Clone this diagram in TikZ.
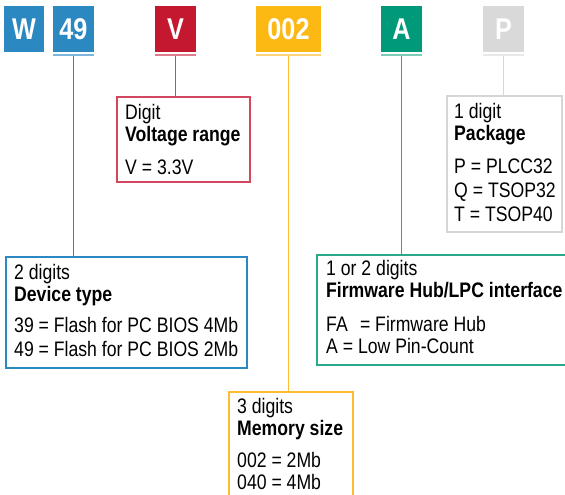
\documentclass[tikz,border=0pt]{standalone}
\usepackage{fontspec}
\setmainfont[FakeStretch=0.84]{Liberation Sans}
\definecolor{cblue}{HTML}{2B88C0}
\definecolor{cbluel}{HTML}{7DB6DC}
\definecolor{cred}{HTML}{C41730}
\definecolor{credb}{HTML}{D24760}
\definecolor{credl}{HTML}{E07C8C}
\definecolor{cyel}{HTML}{FDB913}
\definecolor{cyelb}{HTML}{FDBD30}
\definecolor{cyell}{HTML}{FDD47A}
\definecolor{cgreen}{HTML}{00997A}
\definecolor{cgreenb}{HTML}{2AA88A}
\definecolor{cgreenl}{HTML}{7CCDB8}
\definecolor{cgray}{HTML}{D9D9D9}
\definecolor{cgrayb}{HTML}{D6D6D6}
\definecolor{cgrayl}{HTML}{E8E8E8}
\begin{document}
\begin{tikzpicture}[x=1pt,y=-1pt,
  hdr/.style={inner sep=0pt, minimum height=46pt, text=white,
    font=\fontsize{30}{32}\selectfont\bfseries},
  uline/.style={inner sep=0pt, minimum height=2pt, anchor=north},
  infobox/.style={draw, line width=1.5pt, anchor=north west, inner sep=0pt},
  txt/.style={anchor=north west, inner sep=0pt, align=left,
    font=\fontsize{21}{22}\selectfont},
  conn/.style={line width=1.3pt}]
\clip (0,0) rectangle (565,495);
\fill[white] (0,0) rectangle (565,495);
% header boxes
\node[hdr, fill=cblue, minimum width=40pt] (hw) at (24,29) {W};
\node[hdr, fill=cblue, minimum width=41pt] (h49) at (73.5,29) {49};
\node[hdr, fill=cred, minimum width=41pt] (hv) at (175.5,29) {V};
\node[hdr, fill=cyel, minimum width=65pt] (h002) at (288.5,29) {002};
\node[hdr, fill=cgreen, minimum width=41pt] (ha) at (401.5,29) {A};
\node[hdr, fill=cgray, minimum width=41pt] (hp) at (503.5,29) {P};
% underlines
\node[uline, fill=cbluel, minimum width=41pt] (u49) at ([yshift=-1.5pt]h49.south) {};
\node[uline, fill=credl, minimum width=41pt] (uv) at ([yshift=-1.5pt]hv.south) {};
\node[uline, fill=cyell, minimum width=65pt] (u002) at ([yshift=-1.5pt]h002.south) {};
\node[uline, fill=cgreenl, minimum width=41pt] (ua) at ([yshift=-1.5pt]ha.south) {};
\node[uline, fill=cgrayl, minimum width=41pt] (up) at ([yshift=-1.5pt]hp.south) {};
% info boxes
\node[infobox, draw=credb, minimum width=133pt, minimum height=85pt] (bv) at (116,96) {};
\node[infobox, draw=cgrayb, minimum width=115pt, minimum height=136pt] (bp) at (446,95) {};
\node[infobox, draw=cblue, minimum width=241pt, minimum height=111pt] (bd) at (5,256) {};
\node[infobox, draw=cgreenb, minimum width=260pt, minimum height=110pt] (bf) at (316,254) {};
\node[infobox, draw=cyelb, minimum width=124pt, minimum height=120pt] (bm) at (228,391) {};
% texts
\node[txt] (tv) at (125,104) {Digit\\\textbf{Voltage range}\\[11pt]V = 3.3V};
\node[txt] (tp) at (454,103) {1 digit\\\textbf{Package}\\[11pt]P = PLCC32\\[2pt]Q = TSOP32\\[2pt]T = TSOP40};
\node[txt] (td) at (14,264) {2 digits\\\textbf{Device type}\\[9pt]39 = Flash for PC BIOS 4Mb\\[2pt]49 = Flash for PC BIOS 2Mb};
\node[txt] (tf) at (326,260.5) {1 or 2 digits\\\textbf{Firmware Hub/LPC interface}\\[12pt]FA\hspace{0.35em} = Firmware Hub\\A = Low Pin-Count};
\node[txt] (tm) at (237,398) {3 digits\\\textbf{Memory size}\\[10pt]002 = 2Mb\\040 = 4Mb};
% connectors
\draw[conn, cblue] (u49.south) -- (u49.south |- bd.north);
\draw[conn, credb] (uv.south) -- (uv.south |- bv.north);
\draw[conn, cyelb] (u002.south) -- (u002.south |- bm.north);
\draw[conn, cgreenb] (ua.south) -- (ua.south |- bf.north);
\draw[conn, cgrayb] (up.south) -- (up.south |- bp.north);
\end{tikzpicture}
\end{document}
